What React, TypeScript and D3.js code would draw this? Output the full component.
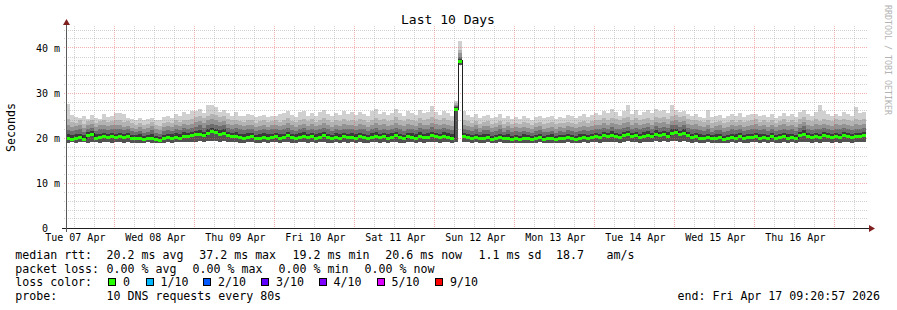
import React from 'react';
import * as d3 from 'd3';

// ---------- data ----------
const TITLE = 'Last 10 Days';
const START = Date.UTC(2026, 3, 7, 9, 20, 57);
const END = Date.UTC(2026, 3, 17, 9, 20, 57);

// median round-trip time per step (ms)
const medianMs = [
  19.9, 19.7, 20.0, 20.3, 19.8, 20.6, 21.0, 20.0, 20.2, 20.4, 20.3, 20.5,
  20.3, 20.4, 20.2, 20.4, 20.0, 19.9, 20.0, 19.8, 19.9, 20.1, 19.7, 19.6, 19.9, 20.2, 20.0, 20.3, 20.1, 20.5, 20.4, 20.6,
  20.8, 21.0, 20.6, 21.2, 21.6, 21.3, 20.9, 21.1, 20.6, 20.4, 20.5, 20.2, 20.0, 20.3, 20.4, 19.9, 20.1, 20.3, 20.0, 20.2,
  20.4, 20.1, 20.3, 20.6, 20.2, 20.0, 20.3, 20.5, 20.2, 20.4, 20.1, 20.3, 20.6, 20.2, 20.0, 20.3, 20.1, 20.4, 20.2, 20.3,
  20.1, 20.4, 20.2, 20.0, 20.3, 20.5, 20.2, 20.4, 20.1, 20.3, 20.6, 20.2, 20.0, 20.4, 20.3, 20.1, 20.5, 20.2, 20.3, 20.6,
  20.4, 20.2, 20.5, 20.3, 20.1, 26.4, 37.2, 20.5, 20.2, 20.0, 20.3, 19.9, 20.1, 20.2, 19.8, 20.0, 20.3, 19.9, 20.1, 19.8,
  20.0, 19.8, 20.1, 19.9, 19.7, 20.0, 20.2, 19.8, 19.9, 20.1, 19.7, 20.0, 19.9, 20.2, 20.0, 19.8, 20.1, 20.3, 20.0, 20.2,
  20.4, 20.3, 20.6, 20.4, 20.7, 20.5, 20.3, 20.6, 20.8, 20.4, 20.6, 20.3, 20.5, 20.7, 20.4, 20.9, 20.6, 20.8, 20.5, 21.1,
  21.4, 20.9, 21.2, 20.6, 20.3, 20.5, 20.1, 20.0, 20.3, 19.9, 20.1, 20.2, 19.8, 20.0, 20.3, 20.1, 20.4, 20.0, 20.2, 20.3,
  20.5, 20.1, 20.3, 20.0, 20.4, 19.9, 20.2, 20.5, 20.1, 20.3, 20.0, 20.6, 21.0, 20.4, 20.2, 20.5, 20.3, 20.6, 20.4, 20.2,
  20.5, 20.3, 20.6, 20.4, 20.2, 20.5, 20.4, 20.6,
];

// lowest ping per step (ms)
const minMs = [
  19.0, 19.1, 19.0, 19.2, 19.1, 19.0, 19.2, 19.1, 19.0, 19.1, 19.2, 19.0,
  19.1, 19.2, 19.0, 19.1, 19.0, 18.9, 19.0, 19.0, 19.1, 19.0, 18.9, 18.9, 19.0, 19.1, 19.0, 19.2, 19.1, 19.2, 19.1, 19.2,
  19.2, 19.3, 19.1, 19.3, 19.4, 19.3, 19.2, 19.3, 19.1, 19.1, 19.2, 19.0, 19.0, 19.1, 19.2, 18.9, 19.0, 19.1, 19.0, 19.1,
  19.1, 19.0, 19.1, 19.2, 19.0, 18.9, 19.1, 19.2, 19.0, 19.1, 19.0, 19.1, 19.2, 19.0, 18.9, 19.1, 19.0, 19.1, 19.0, 19.1,
  19.0, 19.1, 19.0, 18.9, 19.1, 19.2, 19.0, 19.1, 19.0, 19.1, 19.2, 19.0, 18.9, 19.1, 19.1, 19.0, 19.2, 19.0, 19.1, 19.2,
  19.1, 19.0, 19.2, 19.1, 19.0, 19.2, 36.3, 19.2, 19.1, 19.0, 19.1, 18.9, 19.0, 19.1, 18.9, 19.0, 19.1, 18.9, 19.0, 18.9,
  19.0, 18.9, 19.0, 18.9, 18.8, 19.0, 19.1, 18.9, 19.0, 19.0, 18.8, 19.0, 18.9, 19.1, 19.0, 18.9, 19.0, 19.1, 19.0, 19.1,
  19.1, 19.0, 19.2, 19.1, 19.2, 19.1, 19.0, 19.2, 19.3, 19.1, 19.2, 19.0, 19.1, 19.2, 19.1, 19.3, 19.2, 19.3, 19.1, 19.3,
  19.3, 19.2, 19.3, 19.1, 19.0, 19.1, 19.0, 18.9, 19.1, 18.9, 19.0, 19.0, 18.9, 19.0, 19.1, 19.0, 19.1, 18.9, 19.0, 19.1,
  19.1, 19.0, 19.1, 18.9, 19.1, 18.9, 19.0, 19.1, 19.0, 19.1, 18.9, 19.2, 19.2, 19.1, 19.0, 19.1, 19.0, 19.2, 19.1, 19.0,
  19.1, 19.0, 19.2, 19.1, 19.0, 19.1, 19.1, 19.2,
];

// upper smoke levels per step (ms), from the darkest band to the lightest
const q1Ms = [
  20.8, 20.6, 20.9, 21.0, 20.7, 21.3, 21.6, 20.8, 21.0, 21.1, 21.0, 21.2,
  21.0, 21.1, 20.9, 21.1, 20.7, 20.6, 20.8, 20.5, 20.6, 20.9, 20.4, 20.3, 20.7, 21.0, 20.8, 21.1, 20.9, 21.3, 21.2, 21.4,
  21.6, 21.8, 21.4, 22.0, 22.3, 22.1, 21.7, 21.9, 21.4, 21.2, 21.3, 21.0, 20.8, 21.1, 21.2, 20.7, 20.9, 21.1, 20.8, 21.0,
  21.1, 20.9, 21.0, 21.4, 20.9, 20.8, 21.1, 21.3, 20.9, 21.2, 20.8, 21.1, 21.4, 21.0, 20.7, 21.1, 20.9, 21.2, 21.0, 21.1,
  20.8, 21.2, 21.0, 20.7, 21.1, 21.3, 20.9, 21.2, 20.8, 21.1, 21.4, 21.0, 20.7, 21.2, 21.1, 20.8, 21.3, 21.0, 21.1, 21.4,
  21.2, 21.0, 21.3, 21.1, 20.8, 26.8, 37.6, 21.2, 20.9, 20.7, 21.0, 20.6, 20.8, 20.9, 20.5, 20.7, 21.0, 20.6, 20.8, 20.5,
  20.7, 20.5, 20.8, 20.6, 20.4, 20.7, 20.9, 20.5, 20.6, 20.8, 20.4, 20.7, 20.6, 20.9, 20.7, 20.5, 20.8, 21.0, 20.7, 20.9,
  21.1, 21.0, 21.4, 21.1, 21.5, 21.2, 21.0, 21.4, 21.6, 21.1, 21.4, 21.0, 21.3, 21.5, 21.1, 21.7, 21.4, 21.6, 21.3, 21.9,
  22.1, 21.6, 22.0, 21.3, 21.0, 21.2, 20.8, 20.7, 21.0, 20.6, 20.8, 20.9, 20.5, 20.7, 21.0, 20.8, 21.1, 20.7, 20.9, 21.0,
  21.2, 20.8, 21.0, 20.7, 21.1, 20.6, 20.9, 21.2, 20.8, 21.0, 20.7, 21.3, 21.7, 21.1, 20.9, 21.2, 21.0, 21.3, 21.1, 20.9,
  21.2, 21.0, 21.3, 21.1, 20.9, 21.2, 21.1, 21.3,
];
const q2Ms = [
  21.8, 21.5, 21.7, 21.9, 21.4, 22.0, 22.3, 21.6, 21.9, 22.1, 21.8, 22.0,
  21.9, 22.0, 21.7, 21.9, 21.5, 21.3, 21.6, 21.2, 21.4, 21.7, 21.1, 21.0, 21.5, 21.8, 21.6, 22.0, 21.7, 22.2, 22.0, 22.3,
  22.5, 22.8, 22.3, 22.9, 23.2, 23.0, 22.6, 22.8, 22.3, 22.0, 22.2, 21.9, 21.7, 22.0, 22.1, 21.5, 21.8, 22.0, 21.7, 21.9,
  22.0, 21.7, 21.9, 22.3, 21.8, 21.6, 22.0, 22.2, 21.8, 22.1, 21.7, 22.0, 22.3, 21.9, 21.6, 22.0, 21.8, 22.1, 21.9, 22.0,
  21.7, 22.1, 21.9, 21.6, 22.0, 22.2, 21.8, 22.1, 21.7, 22.0, 22.3, 21.9, 21.6, 22.1, 22.0, 21.7, 22.3, 21.9, 22.0, 22.4,
  22.1, 21.9, 22.2, 22.0, 21.7, 27.1, 38.1, 22.1, 21.8, 21.5, 21.9, 21.4, 21.7, 21.8, 21.3, 21.6, 21.9, 21.4, 21.7, 21.3,
  21.5, 21.3, 21.6, 21.4, 21.2, 21.5, 21.7, 21.3, 21.4, 21.6, 21.2, 21.5, 21.4, 21.7, 21.5, 21.3, 21.6, 21.8, 21.5, 21.7,
  22.0, 21.9, 22.3, 22.0, 22.4, 22.1, 21.9, 22.3, 22.5, 22.0, 22.3, 21.9, 22.2, 22.4, 22.0, 22.6, 22.3, 22.5, 22.2, 22.8,
  23.0, 22.5, 22.8, 22.2, 21.9, 22.1, 21.7, 21.6, 21.9, 21.4, 21.7, 21.8, 21.4, 21.6, 21.9, 21.7, 22.0, 21.6, 21.8, 21.9,
  22.1, 21.7, 21.9, 21.6, 22.0, 21.5, 21.8, 22.1, 21.7, 21.9, 21.6, 22.2, 22.6, 22.0, 21.8, 22.1, 21.9, 22.2, 22.0, 21.8,
  22.1, 21.9, 22.2, 22.0, 21.8, 22.1, 22.0, 22.2,
];
const q3Ms = [
  23.0, 22.5, 22.6, 22.8, 22.3, 22.9, 23.2, 22.4, 22.8, 23.0, 22.6, 22.9,
  22.8, 23.0, 22.5, 22.7, 22.3, 22.1, 22.4, 22.0, 22.2, 22.6, 21.9, 21.8, 22.4, 22.7, 22.4, 22.9, 22.6, 23.1, 22.9, 23.2,
  23.5, 23.8, 23.3, 23.9, 24.2, 24.0, 23.6, 23.7, 23.2, 22.9, 23.1, 22.8, 22.6, 22.9, 23.0, 22.4, 22.7, 22.9, 22.5, 22.8,
  23.0, 22.6, 22.9, 23.3, 22.8, 22.5, 23.0, 23.2, 22.7, 23.1, 22.6, 22.9, 23.3, 22.8, 22.5, 22.9, 22.7, 23.1, 22.8, 23.0,
  22.7, 23.1, 22.9, 22.5, 23.0, 23.3, 22.8, 23.1, 22.6, 23.0, 23.4, 22.9, 22.6, 23.2, 23.0, 22.7, 23.3, 22.9, 23.0, 23.4,
  23.1, 22.8, 23.2, 23.0, 22.6, 27.4, 38.9, 23.0, 22.7, 22.4, 22.8, 22.3, 22.6, 22.7, 22.2, 22.5, 22.8, 22.3, 22.6, 22.2,
  22.4, 22.2, 22.5, 22.3, 22.0, 22.4, 22.6, 22.1, 22.3, 22.5, 22.1, 22.4, 22.3, 22.6, 22.4, 22.2, 22.5, 22.7, 22.4, 22.6,
  23.0, 22.9, 23.3, 23.0, 23.4, 23.1, 22.8, 23.3, 23.5, 23.0, 23.3, 22.9, 23.2, 23.4, 23.0, 23.6, 23.3, 23.5, 23.2, 23.8,
  24.0, 23.5, 23.8, 23.2, 22.9, 23.1, 22.7, 22.5, 22.9, 22.3, 22.6, 22.8, 22.3, 22.5, 22.9, 22.6, 23.0, 22.5, 22.7, 22.9,
  23.1, 22.6, 22.9, 22.5, 23.0, 22.4, 22.8, 23.1, 22.6, 22.9, 22.5, 23.2, 23.6, 23.0, 22.7, 23.1, 22.8, 23.2, 23.0, 22.7,
  23.1, 22.8, 23.2, 23.0, 22.7, 23.1, 23.0, 23.2,
];
const q4Ms = [
  24.2, 23.6, 23.4, 23.9, 23.2, 23.8, 24.1, 23.3, 23.7, 24.0, 23.5, 23.8,
  23.9, 24.0, 23.5, 23.7, 23.3, 23.0, 23.3, 22.9, 23.1, 23.5, 22.8, 22.7, 23.3, 23.6, 23.4, 23.9, 23.6, 24.1, 23.9, 24.3,
  24.6, 24.9, 24.4, 25.0, 25.3, 25.1, 24.7, 24.8, 24.2, 23.9, 24.1, 23.8, 23.6, 23.9, 24.0, 23.4, 23.7, 23.9, 23.5, 23.8,
  24.1, 23.6, 23.9, 24.4, 23.8, 23.5, 24.1, 24.3, 23.7, 24.2, 23.6, 24.0, 24.4, 23.9, 23.5, 24.0, 23.7, 24.2, 23.8, 24.1,
  23.8, 24.2, 24.0, 23.6, 24.1, 24.5, 23.9, 24.3, 23.7, 24.1, 24.6, 24.0, 23.7, 24.3, 24.1, 23.8, 24.5, 24.0, 24.2, 24.6,
  24.3, 23.9, 24.4, 24.1, 23.7, 27.8, 39.6, 24.0, 23.7, 23.4, 23.8, 23.2, 23.6, 23.7, 23.1, 23.4, 23.8, 23.2, 23.6, 23.1,
  23.4, 23.2, 23.5, 23.3, 23.0, 23.4, 23.6, 23.1, 23.3, 23.5, 23.1, 23.4, 23.3, 23.6, 23.4, 23.2, 23.5, 23.8, 23.4, 23.7,
  24.1, 24.0, 24.4, 24.1, 24.5, 24.2, 23.9, 24.4, 24.6, 24.1, 24.4, 24.0, 24.3, 24.5, 24.1, 24.7, 24.4, 24.6, 24.3, 24.9,
  25.1, 24.6, 24.9, 24.3, 23.9, 24.1, 23.7, 23.5, 23.9, 23.3, 23.6, 23.8, 23.3, 23.5, 23.9, 23.6, 24.0, 23.5, 23.7, 23.9,
  24.2, 23.6, 23.9, 23.5, 24.0, 23.4, 23.8, 24.2, 23.6, 23.9, 23.5, 24.3, 24.7, 24.0, 23.7, 24.2, 23.8, 24.3, 24.0, 23.7,
  24.2, 23.9, 24.3, 24.1, 23.8, 24.2, 24.1, 24.3,
];
// highest ping per step (ms)
const maxMs = [
  27.5, 25.2, 24.6, 24.4, 25.0, 24.3, 25.1, 24.5, 24.3, 25.4, 24.6, 24.8,
  25.6, 25.5, 25.3, 24.4, 24.3, 24.1, 24.5, 24.0, 24.2, 24.4, 23.9, 24.0, 24.6, 24.8, 24.5, 25.3, 25.0, 25.8, 25.4, 26.0,
  25.9, 26.4, 25.6, 27.3, 27.4, 26.8, 25.8, 26.2, 25.5, 25.0, 25.7, 24.9, 24.8, 25.3, 25.1, 24.6, 24.9, 25.2, 24.7, 24.8,
  24.8, 25.3, 25.6, 26.0, 25.2, 24.7, 25.8, 26.1, 25.0, 25.5, 24.9, 25.7, 26.2, 25.4, 24.8, 25.6, 25.1, 25.9, 25.3, 25.7,
  25.2, 25.8, 25.4, 25.0, 25.9, 26.4, 25.3, 25.7, 25.1, 25.6, 26.5, 25.5, 25.0, 26.0, 25.6, 25.2, 26.3, 25.5, 25.8, 27.1,
  25.8, 25.2, 26.0, 25.5, 24.9, 28.3, 41.6, 25.9, 25.1, 24.7, 25.3, 24.5, 24.9, 25.2, 24.4, 24.7, 25.4, 24.5, 25.0, 24.3,
  24.6, 24.3, 24.9, 24.5, 24.1, 24.7, 25.0, 24.4, 24.6, 24.8, 24.2, 24.7, 24.5, 25.1, 24.8, 24.4, 24.9, 25.3, 24.7, 25.2,
  25.6, 25.2, 26.1, 25.5, 26.4, 25.8, 25.0, 26.0, 27.3, 25.4, 26.2, 25.1, 25.7, 26.3, 25.5, 26.5, 25.9, 26.2, 25.6, 27.4,
  26.3, 25.7, 26.0, 25.4, 24.9, 25.3, 24.7, 24.5, 26.3, 24.6, 25.0, 25.2, 24.5, 24.8, 25.4, 24.9, 25.5, 24.7, 25.1, 25.3,
  25.3, 24.8, 25.2, 24.6, 25.4, 24.5, 25.0, 25.6, 24.9, 25.3, 24.7, 25.8, 26.2, 25.4, 25.0, 25.7, 27.4, 25.9, 25.3, 24.9,
  25.4, 25.0, 25.8, 25.3, 24.9, 26.8, 25.5, 25.7,
];

const yMajorTicks = [0, 10, 20, 30, 40];
const yTickLabels = ['0  ', '10 m', '20 m', '30 m', '40 m'];
const dayLabels = [
  'Tue 07 Apr', 'Wed 08 Apr', 'Thu 09 Apr', 'Fri 10 Apr', 'Sat 11 Apr',
  'Sun 12 Apr', 'Mon 13 Apr', 'Tue 14 Apr', 'Wed 15 Apr', 'Thu 16 Apr',
];
const rttStats = ['20.2 ms avg', '37.2 ms max', '19.2 ms min', '20.6 ms now', '1.1 ms sd', '18.7', 'am/s'];
const lossStats = ['0.00 % avg', '0.00 % max', '0.00 % min', '0.00 % now'];
const lossLabels = ['0', '1/10', '2/10', '3/10', '4/10', '5/10', '9/10'];
const lossColors = ['#26ff00', '#00b8ff', '#0059ff', '#5e00ff', '#7e00ff', '#dd00ff', '#ff0000'];
const probeText = '10 DNS requests every 80s';
const endText = 'end: Fri Apr 17 09:20:57 2026';

// ---------- layout ----------
const W = 897;
const H = 310;
const X0 = 66;
const X1 = 866;
const Y0 = 228;
const YTOP = 28;
const FONT = "'DejaVu Sans Mono', monospace";

const rttX = [106.6, 199.3, 292.6, 385.3, 478.6, 556, 606.6];
const lossX = [106.6, 192.6, 278.6, 364.6];
const swatchX = [108.5, 146, 203.5, 261.5, 319, 377, 435.5];

export default function App() {
  const x = d3.scaleUtc().domain([new Date(START), new Date(END)]).range([X0, X1]);
  const y = d3.scaleLinear().domain([0, 200 / 4.5]).range([Y0, YTOP]);
  const n = medianMs.length;
  const step = (END - START) / n;
  const tAt = (i: number) => new Date(START + i * step);
  const px = (v: number) => Math.floor(v) + 0.5;

  const bands = [
    { lo: minMs, hi: medianMs, color: '#525252' },
    { lo: medianMs, hi: q1Ms, color: '#3a3a3a' },
    { lo: q1Ms, hi: q2Ms, color: '#6c6c6c' },
    { lo: q2Ms, hi: q3Ms, color: '#929292' },
    { lo: q3Ms, hi: q4Ms, color: '#b3b3b3' },
    { lo: q4Ms, hi: maxMs, color: '#d0d0d0' },
  ];

  const xs = d3.range(n + 1).map((i) => Math.round(x(tAt(i))));

  const minorV = d3.utcHour.every(6)!.range(new Date(START), new Date(END)).filter((d) => d.getUTCHours() !== 0);
  const majorV = d3.utcDay.range(new Date(START), new Date(END));
  const noonTimes = majorV.map((d) => d3.utcHour.offset(d, -12)).concat([d3.utcHour.offset(majorV[majorV.length - 1], 12)]);
  const minorH = d3.range(2, 45, 2).filter((v) => v % 10 !== 0 && y(v) >= YTOP - 2);

  const medPts: [number, number][] = medianMs.map((m, i) => [xs[i], y(m)]);
  medPts.push([xs[n], y(medianMs[n - 1])]);
  const stepLine = d3.line().curve(d3.curveStepAfter)(medPts) || '';

  const minorColor = 'rgba(150,150,150,0.42)';
  const majorColor = 'rgba(235,80,80,0.45)';

  return (
    <div style={{ position: 'fixed', left: 0, top: 0, width: W, height: H, background: '#fff' }}>
      <svg width={W} height={H} viewBox={`0 0 ${W} ${H}`} style={{ display: 'block' }}>
        <rect x={0} y={0} width={W} height={H} fill="#ffffff" />

        {/* smoke */}
        <g shapeRendering="crispEdges">
          {bands.map((b, bi) =>
            medianMs.map((_, i) => {
              const top = Math.round(y(b.hi[i]));
              const bot = Math.round(y(b.lo[i]));
              if (bot <= top) return null;
              return (
                <rect key={`b${bi}-${i}`} x={xs[i]} y={top} width={xs[i + 1] - xs[i]} height={bot - top} fill={b.color} />
              );
            })
          )}
        </g>

        {/* grid */}
        <g shapeRendering="crispEdges" strokeWidth={1} strokeDasharray="1,1" fill="none">
          {minorH.map((v) => (
            <line key={`mh${v}`} x1={X0 - 2} x2={X1 + 2} y1={px(y(v))} y2={px(y(v))} stroke={minorColor} />
          ))}
          {minorV.map((d) => (
            <line key={`mv${+d}`} x1={px(x(d))} x2={px(x(d))} y1={YTOP - 2} y2={Y0 + 2} stroke={minorColor} />
          ))}
          {yMajorTicks.filter((v) => v > 0).map((v) => (
            <line key={`Mh${v}`} x1={X0 - 2} x2={X1 + 2} y1={px(y(v))} y2={px(y(v))} stroke={majorColor} />
          ))}
          {majorV.map((d) => (
            <line key={`Mv${+d}`} x1={px(x(d))} x2={px(x(d))} y1={YTOP - 2} y2={Y0 + 2} stroke={majorColor} />
          ))}
        </g>

        {/* median line and loss-coloured median */}
        <path d={stepLine} fill="none" stroke="#202020" strokeWidth={1} shapeRendering="crispEdges" />
        <g shapeRendering="crispEdges">
          {medianMs.map((m, i) => (
            <rect key={`g${i}`} x={xs[i]} y={Math.round(y(m)) - 1} width={xs[i + 1] - xs[i]} height={3} fill={lossColors[0]} />
          ))}
        </g>

        {/* axes */}
        <g shapeRendering="crispEdges">
          <line x1={X0 - 4} x2={X1 + 4} y1={px(Y0)} y2={px(Y0)} stroke="#1f1f1f" />
          <line x1={px(X0)} x2={px(X0)} y1={Y0 + 4} y2={YTOP - 4} stroke="#5a5a5a" />
        </g>
        <path d={`M${X0 - 3},${YTOP - 3} L${X0 + 4},${YTOP - 3} L${X0 + 0.5},${YTOP - 9} Z`} fill="#801f1f" />
        <path d={`M${X1 + 3},${Y0 - 3} L${X1 + 3},${Y0 + 4} L${X1 + 9},${Y0 + 0.5} Z`} fill="#801f1f" />

        {/* tick labels */}
        <g fontFamily={FONT} fontSize={10} fill="#000">
          {yMajorTicks.map((v, i) => (
            <text key={`yl${v}`} x={60} y={y(v) + (v === 0 ? 3.5 : 4)} textAnchor="end" style={{ whiteSpace: 'pre' }}>
              {yTickLabels[i]}
            </text>
          ))}
          {dayLabels.map((lab, i) => (
            <text key={`xl${i}`} x={x(noonTimes[i]) + 0.5} y={240.5} textAnchor="middle">
              {lab}
            </text>
          ))}
        </g>

        {/* title and axis title */}
        <text x={448} y={24} textAnchor="middle" fontFamily={FONT} fontSize={13} fill="#000">
          {TITLE}
        </text>
        <text transform="translate(15,127.5) rotate(-90)" textAnchor="middle" fontFamily={FONT} fontSize={11.6} fill="#000">
          Seconds
        </text>
        <text transform="translate(884.5,60) rotate(90)" textAnchor="middle" fontFamily={FONT} fontSize={8.3} fill="#b3b3b3">
          RRDTOOL / TOBI OETIKER
        </text>

        {/* legend */}
        <g fontFamily={FONT} fontSize={11.6} fill="#000" style={{ whiteSpace: 'pre' }}>
          <text x={15.3} y={258.5}>median rtt:</text>
          {rttStats.map((s, i) => (
            <text key={`r${i}`} x={rttX[i]} y={258.5}>{s}</text>
          ))}
          <text x={15.3} y={272.5}>packet loss:</text>
          {lossStats.map((s, i) => (
            <text key={`l${i}`} x={lossX[i]} y={272.5}>{s}</text>
          ))}
          <text x={15.3} y={286.3}>loss color:</text>
          {lossLabels.map((s, i) => (
            <text key={`c${i}`} x={swatchX[i] + 14.5} y={286.3}>{s}</text>
          ))}
          <text x={15.3} y={300}>probe:</text>
          <text x={106.6} y={300}>{probeText}</text>
          <text x={677.6} y={300}>{endText}</text>
        </g>
        <g shapeRendering="crispEdges">
          {lossColors.map((c, i) => (
            <rect key={`s${i}`} x={swatchX[i]} y={278.5} width={7} height={7} fill={c} stroke="#000" strokeWidth={1} />
          ))}
        </g>
      </svg>
    </div>
  );
}
